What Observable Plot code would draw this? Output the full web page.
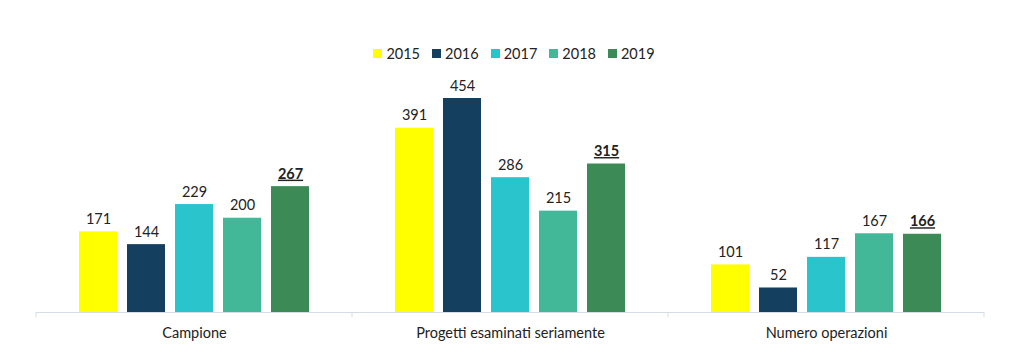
<!DOCTYPE html>
<html><head><meta charset="utf-8">
<script src="https://cdn.jsdelivr.net/npm/d3@7"></script>
<script src="https://cdn.jsdelivr.net/npm/@observablehq/plot@0.6"></script>
<style>
html,body{margin:0;padding:0;background:#fff;}
body{width:1024px;height:357px;overflow:hidden;font-family:Lato,"Open Sans",sans-serif;color:#222;}
#legend{height:70px;box-sizing:border-box;padding-top:37px;display:flex;justify-content:center;padding-left:4px;}
.item{display:flex;align-items:center;margin:0 6px;font-size:14.5px;line-height:18px;}
.sw{width:9px;height:9px;margin-right:4px;}
.u text{text-decoration:underline;}
</style></head><body>
<div id="legend"></div>
<div id="chart"></div>
<script>
const categories = ["Campione", "Progetti esaminati seriamente", "Numero operazioni"];
const years = ["2015", "2016", "2017", "2018", "2019"];
const v2015 = [171, 391, 101];
const v2016 = [144, 454, 52];
const v2017 = [229, 286, 117];
const v2018 = [200, 215, 167];
const v2019 = [267, 315, 166];
const colors = ["#ffff00", "#143f5f", "#29c4cc", "#42b898", "#3c8a55"];

const series = [v2015, v2016, v2017, v2018, v2019];
const data = categories.flatMap((c, i) => years.map((y, j) => ({cat: c, year: y, value: series[j][i]})));

const legend = document.getElementById("legend");
years.forEach((y, j) => {
  const it = document.createElement("div");
  it.className = "item";
  it.innerHTML = `<span class="sw" style="background:${colors[j]}"></span><span>${y}</span>`;
  legend.appendChild(it);
});

const txt = "#222";
const plot = Plot.plot({
  width: 1024, height: 287,
  marginLeft: 35, marginRight: 39, marginTop: 28, marginBottom: 45,
  style: {fontFamily: "Lato, 'Open Sans', sans-serif", background: "#fff"},
  fx: {domain: categories, padding: 0, label: null},
  x: {domain: years, paddingInner: 0.206, paddingOuter: 0.868, axis: null},
  y: {domain: [0, 454], axis: null},
  color: {domain: years, range: colors},
  marks: [
    Plot.barY(data, {fx: "cat", x: "year", y: "value", fill: "year"}),
    Plot.ruleY([0], {stroke: "#d3dde7", strokeWidth: 1}),
    Plot.text(data.filter(d => d.year !== "2019"), {fx: "cat", x: "year", y: "value", text: d => String(d.value), lineAnchor: "bottom", dy: -8, fontSize: 14.5, fill: txt}),
    Plot.text(data.filter(d => d.year === "2019"), {fx: "cat", x: "year", y: "value", text: d => String(d.value), lineAnchor: "bottom", dy: -8, fontSize: 14.5, fontWeight: "bold", fill: txt, className: "u"}),
    Plot.axisFx({anchor: "bottom", tickSize: 0, tickPadding: 15, fontSize: 14.5, label: null, color: txt})
  ]
});
document.getElementById("chart").appendChild(plot);

// boundary ticks at the facet band edges, from the fx scale
const fx = plot.scale("fx");
const base = 287 - 45;
const edges = categories.map(c => fx.apply(c));
edges.push(fx.apply(categories[categories.length - 1]) + fx.bandwidth);
d3.select(plot).append("g").selectAll("line").data(edges).join("line")
  .attr("x1", d => d).attr("x2", d => d)
  .attr("y1", base).attr("y2", base + 5)
  .attr("stroke", "#d3dde7");
</script>
</body></html>
